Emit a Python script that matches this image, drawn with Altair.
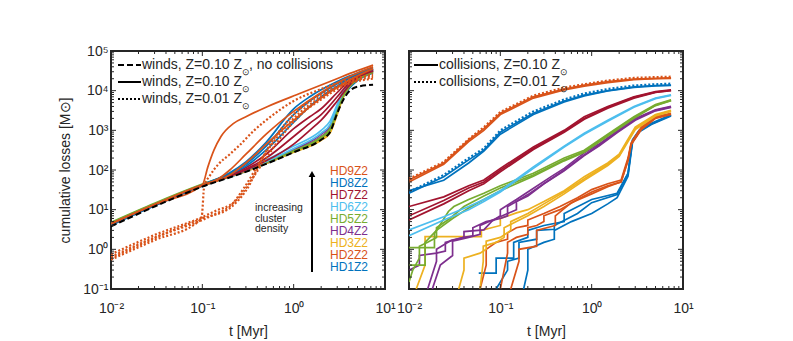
import altair as alt
import pandas as pd

# ---------------- colours per cluster model ----------------
HD_COLORS = {1: "#0072BD", 2: "#D95319", 3: "#EDB120", 4: "#7E2F8E", 5: "#77AC30",
             6: "#4DBEEE", 7: "#A2142F", 8: "#0072BD", 9: "#D95319"}
HD_LABELS = ["HD9Z2", "HD8Z2", "HD7Z2", "HD6Z2", "HD5Z2", "HD4Z2", "HD3Z2", "HD2Z2", "HD1Z2"]

# ---------------- left panel: winds ----------------
TL = [0.01, 0.03, 0.1, 0.3, 1, 2, 2.5, 3, 3.5, 4, 5, 7.4]
W_NOCOLL = [3.8, 12, 38, 90, 280, 580, 900, 2700, 5900, 9300, 12600, 14000]
W_HD1A = [4.0, 12.5, 39, 92, 285, 600, 950, 3000, 7000, 11000, 18000, 28000]
W_HD1B = [4.1, 12.8, 40, 95, 290, 620, 1000, 3300, 8000, 12500, 20000, 31000]
W_HD2A = [4.3, 13.5, 41, 98, 300, 640, 1000, 3200, 8000, 13000, 21000, 33000]
W_HD2B = [4.2, 13.2, 40, 96, 295, 630, 980, 3100, 7500, 12000, 20000, 30000]
W_HD3A = [4.2, 13, 40, 93, 280, 560, 850, 2500, 7000, 12000, 20000, 30000]
W_HD3B = [4.3, 13.3, 41, 95, 290, 600, 900, 2800, 7500, 12500, 21000, 32000]
W_HD4A = [4.4, 13.5, 42, 100, 320, 800, 1300, 3800, 9000, 14000, 22000, 32000]
W_HD4B = [4.4, 13.5, 42, 98, 310, 700, 1150, 3500, 8500, 13500, 21000, 31000]
W_HD5A = [4.8, 14.5, 44, 105, 300, 650, 1000, 3000, 7500, 12000, 19000, 29000]
W_HD5B = [4.6, 14, 43, 100, 300, 680, 1100, 3400, 8200, 13000, 20000, 30000]
W_HD6A = [4.4, 13.5, 42, 105, 400, 1000, 1700, 4500, 10000, 15000, 23000, 34000]
W_HD6B = [4.3, 13.2, 41, 100, 350, 850, 1400, 4000, 9500, 14500, 22000, 33000]

TL2 = [0.01, 0.03, 0.1, 0.2, 0.3, 0.5, 1, 1.5, 2, 3, 4, 5, 7.4]
W_HD7A = [4.3, 13, 41, 75, 115, 250, 1100, 2200, 3500, 9000, 17000, 24000, 35000]
W_HD7B = [4.3, 13, 41, 72, 105, 200, 700, 1500, 2500, 7000, 15000, 22000, 33000]
W_HD7C = [4.3, 13, 41, 70, 100, 170, 450, 1000, 1800, 5500, 13000, 21000, 31000]
W_HD8A = [4.3, 13, 42, 85, 160, 500, 3500, 7000, 10500, 17000, 23000, 28000, 38000]
W_HD8B = [4.3, 13, 42, 80, 140, 400, 2500, 5500, 8500, 15000, 21000, 27000, 36000]
W_HD8C = [4.3, 13, 42, 78, 125, 320, 1600, 4000, 7000, 13000, 20000, 26000, 35000]

W_HD9A_T = [0.01, 0.03, 0.1, 0.115, 0.134, 0.16, 0.22, 0.3, 0.52, 1.2, 2.75, 5, 7.4]
W_HD9A = [4.4, 13.5, 42, 120, 316, 700, 1500, 2200, 4000, 8700, 18600, 32000, 44000]
W_HD9B_T = [0.01, 0.03, 0.1, 0.15, 0.2, 0.3, 0.5, 1, 2, 4, 7.4]
W_HD9B = [4.4, 13.5, 42, 60, 100, 250, 800, 3000, 9000, 22000, 40000]
W_HD9C = [4.4, 13.5, 42, 55, 75, 150, 450, 1800, 6500, 18000, 36000]

# Z = 0.01 runs (dotted)
D1_T = [0.01, 0.03, 0.09, 0.098, 0.105, 0.12, 0.15, 0.2, 0.25, 0.37, 0.6, 1, 2, 4, 7.4]
D1 = [0.55, 1.7, 5, 6, 40, 70, 140, 250, 400, 1000, 2500, 5500, 11000, 19000, 24000]
D2_T = [0.01, 0.03, 0.1, 0.15, 0.2, 0.29, 0.44, 0.7, 1, 2, 4, 7.4]
D2 = [0.65, 2, 5.5, 8.5, 12, 37, 178, 800, 2000, 7000, 16000, 22000]
D3_T = [0.01, 0.03, 0.1, 0.15, 0.2, 0.25, 0.35, 0.5, 0.8, 1.2, 2, 4, 7.4]
D3 = [0.75, 2.3, 6.5, 10, 13, 20, 60, 200, 900, 2500, 6000, 15000, 20000]
D4_T = [0.01, 0.03, 0.1, 0.2, 0.3, 0.5, 1, 2, 4, 7.4]
D4 = [0.6, 1.9, 6, 11, 30, 300, 2500, 8000, 17000, 26000]

# ---------------- right panel: collisions ----------------
TR = [0.01, 0.024, 0.045, 0.066, 0.1, 0.23, 0.5, 0.83, 1.5, 2.9, 5, 7.4]
C_HD9A = [56, 150, 570, 1100, 2700, 7000, 11000, 13800, 17000, 19500, 20500, 21000]
C_HD9B = [50, 140, 520, 1000, 2500, 6500, 10500, 13000, 16000, 19000, 20000, 20500]
C_HD9D = [60, 160, 600, 1200, 2900, 7500, 12000, 14500, 18000, 21000, 22000, 22500]
C_HD8A = [26, 68, 180, 316, 900, 2700, 5500, 7700, 10000, 12500, 13500, 13800]
C_HD8B = [30, 55, 150, 300, 800, 2500, 5200, 7400, 9800, 12000, 13200, 13500]
C_HD8D = [28, 75, 200, 350, 1000, 3000, 6000, 8500, 11000, 13500, 14500, 15000]
C_HD7A = [12, 21, 40, 56, 110, 380, 1000, 2200, 4000, 7000, 9500, 10500]
C_HD7B = [7, 17, 35, 50, 100, 350, 950, 2000, 3800, 6800, 9200, 10200]
C_HD7C = [5.5, 14, 30, 45, 90, 330, 900, 1900, 3600, 6500, 9000, 10000]
C_HD6A = [3.1, 6.6, 12, 18, 30, 120, 400, 850, 1800, 4000, 6500, 7800]
C_HD6B = [2.2, 5.5, 10, 16, 28, 110, 380, 800, 1700, 3800, 6300, 7600]

C_HD5A_T = [0.01, 0.019, 0.019, 0.023, 0.027, 0.031, 0.045, 0.066, 0.1, 0.23, 0.5, 0.83, 1.5, 2.9, 5, 7.4]
C_HD5A = [1.1, 1.1, 2.5, 5, 9, 12, 18, 26, 40, 83, 200, 316, 800, 2200, 4500, 5900]
C_HD5B_T = [0.01, 0.011, 0.013, 0.013, 0.016, 0.02, 0.02, 0.028, 0.04, 0.066, 0.1, 0.23, 0.5, 0.83, 1.5, 2.9, 5, 7.4]
C_HD5B = [0.15, 0.3, 0.6, 1.2, 1.5, 2, 3.5, 6, 12, 22, 35, 75, 180, 290, 750, 2100, 4300, 5700]
C_HD5C_T = [0.01, 0.015, 0.015, 0.02, 0.03, 0.045, 0.066, 0.1, 0.23, 0.5, 0.83, 1.5, 2.9, 5, 7.4]
C_HD5C = [0.4, 0.4, 1.5, 3, 6, 11, 18, 30, 70, 170, 280, 720, 2000, 4200, 5600]

C_HD4A_T = [0.016, 0.02, 0.02, 0.029, 0.04, 0.04, 0.066, 0.08, 0.1, 0.1, 0.15, 0.2, 0.36, 0.5, 0.83, 1.2, 1.94, 3, 5, 7.4]
C_HD4A = [0.1, 0.5, 1, 1.7, 2, 2.8, 3.1, 5, 7, 10, 18, 28, 68, 110, 270, 450, 1000, 2000, 3300, 4000]
C_HD4B_T = [0.01, 0.013, 0.013, 0.02, 0.025, 0.025, 0.04, 0.05, 0.05, 0.07, 0.1, 0.12, 0.12, 0.15, 0.2, 0.36, 0.5, 0.83, 1.2, 1.94, 3, 5, 7.4]
C_HD4B = [0.3, 0.4, 0.7, 0.8, 0.9, 1.5, 2, 2.2, 3.5, 5, 6, 7, 12, 16, 24, 60, 100, 240, 420, 950, 1900, 3200, 3900]
C_HD4C_T = [0.018, 0.022, 0.03, 0.03, 0.045, 0.06, 0.06, 0.09, 0.12, 0.15, 0.15, 0.2, 0.3, 0.5, 0.83, 1.2, 1.94, 3, 5, 7.4]
C_HD4C = [0.1, 0.4, 0.7, 1.6, 2, 2.4, 4, 6, 8, 10, 16, 22, 45, 95, 230, 400, 900, 1800, 3100, 3800]

C_HD3A_T = [0.012, 0.015, 0.015, 0.062, 0.062, 0.08, 0.1, 0.1, 0.15, 0.2, 0.3, 0.5, 0.83, 1.5, 2, 2.5, 3, 5, 7.4]
C_HD3A = [0.1, 0.4, 2.1, 2.1, 3, 3.5, 4, 6, 8.3, 10, 16, 30, 68, 150, 250, 600, 1200, 2500, 3200]
C_HD3B_T = [0.035, 0.04, 0.04, 0.06, 0.07, 0.07, 0.1, 0.13, 0.13, 0.2, 0.3, 0.5, 0.83, 1.5, 2, 2.5, 3, 5, 7.4]
C_HD3B = [0.1, 0.3, 0.6, 0.8, 1, 1.6, 2, 3, 5, 8, 14, 28, 60, 140, 230, 560, 1100, 2400, 3100]
C_HD3C_T = [0.06, 0.065, 0.065, 0.09, 0.11, 0.11, 0.15, 0.2, 0.3, 0.5, 0.83, 1.5, 2, 2.5, 3, 5, 7.4]
C_HD3C = [0.1, 0.5, 1.2, 1.5, 2, 3.5, 5, 7, 12, 25, 55, 130, 220, 520, 1050, 2300, 3000]

C_HD2A_T = [0.06, 0.07, 0.07, 0.09, 0.12, 0.12, 0.15, 0.2, 0.2, 0.3, 0.45, 0.7, 1, 1.5, 2.1, 2.5, 2.7, 3.5, 5, 7.4]
C_HD2A = [0.1, 0.4, 1, 1.5, 1.8, 2.6, 3.5, 4, 5.5, 8, 12, 20, 32, 45, 56, 200, 480, 1200, 2200, 2700]
C_HD2B_T = [0.1, 0.12, 0.12, 0.15, 0.2, 0.2, 0.25, 0.3, 0.3, 0.45, 0.7, 1, 1.5, 2.1, 2.5, 2.7, 3.5, 5, 7.4]
C_HD2B = [0.1, 0.8, 1.5, 2, 2.4, 3.5, 4, 5, 7, 10, 18, 28, 40, 50, 180, 450, 1100, 2100, 2600]
C_HD2C_T = [0.13, 0.16, 0.16, 0.25, 0.25, 0.4, 0.4, 0.6, 1, 1.5, 2.1, 2.5, 2.7, 3.5, 5, 7.4]
C_HD2C = [0.1, 0.5, 1, 1.2, 3, 4, 7, 15, 25, 38, 50, 170, 430, 1050, 2000, 2500]

C_HD1A_T = [0.058, 0.09, 0.09, 0.14, 0.14, 0.2, 0.2, 0.3, 0.5, 0.5, 1, 1.9, 2.5, 2.8, 3.3, 4.5, 7.4]
C_HD1A = [0.25, 0.25, 0.6, 0.6, 1.5, 2, 3, 4, 5, 8, 18, 26, 83, 575, 1000, 1500, 2450]
C_HD1B_T = [0.18, 0.2, 0.2, 0.3, 0.39, 0.39, 0.6, 1, 1.5, 1.9, 2.5, 2.8, 3.3, 4.5, 7.4]
C_HD1B = [0.1, 0.3, 1, 1.5, 1.8, 3, 5, 8, 14, 20, 70, 500, 900, 1400, 2300]
C_HD1C_T = [0.09, 0.12, 0.12, 0.16, 0.16, 0.25, 0.25, 0.39, 0.39, 0.7, 1, 1.9, 2.5, 2.8, 3.3, 4.5, 7.4]
C_HD1C = [0.1, 0.3, 0.5, 0.6, 1.5, 1.8, 3, 3.2, 4, 8, 15, 24, 80, 550, 950, 1450, 2400]

# tick positions
X_MAJOR = [0.01, 0.1, 1, 10]
Y_MAJOR = [0.1, 1, 10, 100, 1000, 10000, 100000]
X_MINOR = [k * 10.0 ** e for e in (-2, -1, 0) for k in range(2, 10)]
Y_MINOR = [k * 10.0 ** e for e in (-1, 0, 1, 2, 3, 4) for k in range(2, 10)]

# ---------------- assemble tables ----------------
rows = []
def add(panel, style, hd, name, t, m):
    col = "#000000" if hd == 0 else HD_COLORS[hd]
    for i, (a, b) in enumerate(zip(t, m)):
        rows.append(dict(panel=panel, style=style, color=col, line=name, i=i, t=a, m=b))

# left: solid
for hd, runs in [(1, [W_HD1A, W_HD1B]), (2, [W_HD2A, W_HD2B]), (3, [W_HD3A, W_HD3B]),
                 (4, [W_HD4A, W_HD4B]), (5, [W_HD5A, W_HD5B]), (6, [W_HD6A, W_HD6B])]:
    for j, r in enumerate(runs):
        add("L", "solid", hd, f"L{hd}{j}", TL, r)
for hd, runs in [(7, [W_HD7A, W_HD7B, W_HD7C]), (8, [W_HD8A, W_HD8B, W_HD8C])]:
    for j, r in enumerate(runs):
        add("L", "solid", hd, f"L{hd}{j}", TL2, r)
add("L", "solid", 9, "L90", W_HD9A_T, W_HD9A)
add("L", "solid", 9, "L91", W_HD9B_T, W_HD9B)
add("L", "solid", 9, "L92", W_HD9B_T, W_HD9C)
add("L", "dotted", 9, "LD1", D1_T, D1)
add("L", "dotted", 9, "LD2", D2_T, D2)
add("L", "dotted", 2, "LD3", D3_T, D3)
add("L", "dotted", 2, "LD4", D4_T, D4)
add("L", "dashed", 0, "LN", TL, W_NOCOLL)

# right
for name, hd, t, m in [
    ("R1a", 1, C_HD1A_T, C_HD1A), ("R1b", 1, C_HD1B_T, C_HD1B), ("R1c", 1, C_HD1C_T, C_HD1C),
    ("R2a", 2, C_HD2A_T, C_HD2A), ("R2b", 2, C_HD2B_T, C_HD2B), ("R2c", 2, C_HD2C_T, C_HD2C),
    ("R3a", 3, C_HD3A_T, C_HD3A), ("R3b", 3, C_HD3B_T, C_HD3B), ("R3c", 3, C_HD3C_T, C_HD3C),
    ("R4a", 4, C_HD4A_T, C_HD4A), ("R4b", 4, C_HD4B_T, C_HD4B), ("R4c", 4, C_HD4C_T, C_HD4C),
    ("R5a", 5, C_HD5A_T, C_HD5A), ("R5b", 5, C_HD5B_T, C_HD5B), ("R5c", 5, C_HD5C_T, C_HD5C),
    ("R6a", 6, TR, C_HD6A), ("R6b", 6, TR, C_HD6B),
    ("R7a", 7, TR, C_HD7A), ("R7b", 7, TR, C_HD7B), ("R7c", 7, TR, C_HD7C),
    ("R8a", 8, TR, C_HD8A), ("R8b", 8, TR, C_HD8B),
    ("R9a", 9, TR, C_HD9A), ("R9b", 9, TR, C_HD9B),
]:
    add("R", "solid", hd, name, t, m)
add("R", "dotted", 8, "R8d", TR, C_HD8D)
add("R", "dotted", 9, "R9d", TR, C_HD9D)

df = pd.DataFrame(rows)

# ---------------- chart pieces ----------------
W, H = 274, 238
INK = "#262626"
FONT = "Liberation Sans"

XS = alt.Scale(type="log", domain=[0.01, 10], nice=False)
YS = alt.Scale(type="log", domain=[0.1, 100000], nice=False)

X_LABEL = ("datum.value < 0.05 ? '10⁻²' : datum.value < 0.5 ? '10⁻¹' : "
           "datum.value < 5 ? '10⁰' : '10¹'")
Y_LABEL = ("datum.value < 0.5 ? '10⁻¹' : datum.value < 5 ? '10⁰' : datum.value < 50 ? '10¹' : "
           "datum.value < 500 ? '10²' : datum.value < 5000 ? '10³' : datum.value < 50000 ? '10⁴' : '10⁵'")

XAX = alt.Axis(values=X_MAJOR, labelExpr=X_LABEL, title="t [Myr]", ticks=False, domain=False,
               grid=False, labelPadding=12, titlePadding=9, labelOverlap=False, labelFlush=False)
YAX = alt.Axis(values=Y_MAJOR, labelExpr=Y_LABEL, title="cumulative losses [M⊙]", ticks=False,
               domain=False, grid=False, labelPadding=3, titlePadding=10, labelOverlap=False,
               labelFlush=False)


def lines(panel, yaxis, interp):
    base = alt.Chart(df[df.panel == panel])
    enc = dict(
        x=alt.X("t:Q", scale=XS, axis=XAX),
        y=alt.Y("m:Q", scale=YS, axis=yaxis),
        color=alt.Color("color:N", scale=None),
        detail="line:N",
        order="i:Q",
    )
    solid = base.transform_filter(alt.datum.style == "solid").mark_line(
        strokeWidth=1.7, clip=True, interpolate=interp).encode(**enc)
    dotted = base.transform_filter(alt.datum.style == "dotted").mark_line(
        strokeWidth=2.2, strokeDash=[2, 2], clip=True, interpolate=interp).encode(**enc)
    layers = [solid, dotted]
    if panel == "L":
        dashed = base.transform_filter(alt.datum.style == "dashed").mark_line(
            strokeWidth=2, strokeDash=[6, 3], clip=True, interpolate=interp).encode(**enc)
        layers.append(dashed)
    return layers


def ticks():
    out = []
    for vals, ln in [(X_MAJOR, 5), (X_MINOR, 3)]:
        d = alt.Chart(pd.DataFrame({"t": vals}))
        out.append(d.mark_rule(color=INK, strokeWidth=1).encode(
            x=alt.X("t:Q", scale=XS, axis=XAX), y=alt.value(H), y2=alt.value(H - ln)))
        out.append(d.mark_rule(color=INK, strokeWidth=1).encode(
            x=alt.X("t:Q", scale=XS, axis=XAX), y=alt.value(0), y2=alt.value(ln)))
    for vals, ln in [(Y_MAJOR, 5), (Y_MINOR, 3)]:
        d = alt.Chart(pd.DataFrame({"m": vals}))
        out.append(d.mark_rule(color=INK, strokeWidth=1).encode(
            y=alt.Y("m:Q", scale=YS), x=alt.value(0), x2=alt.value(ln)))
        out.append(d.mark_rule(color=INK, strokeWidth=1).encode(
            y=alt.Y("m:Q", scale=YS), x=alt.value(W), x2=alt.value(W - ln)))
    return out


def txt(s, x, y, size=14, color=INK, align="left"):
    return alt.Chart(pd.DataFrame({"s": [s]})).mark_text(
        font=FONT, fontSize=size, color=color, align=align, baseline="middle").encode(
        text="s:N", x=alt.value(x), y=alt.value(y))


def sample(y, dash, x0=7, x1=30):
    kw = dict(color="black", strokeWidth=2)
    if dash:
        kw["strokeDash"] = dash
    return alt.Chart(pd.DataFrame({"a": [0]})).mark_rule(**kw).encode(
        x=alt.value(x0), x2=alt.value(x1), y=alt.value(y))


# left legend
LEG_L = ["winds, Z=0.10 Z", "winds, Z=0.10 Z", "winds, Z=0.01 Z"]
left_leg = [
    sample(14, [6, 3]), sample(31, None), sample(48, [2, 2]),
    txt(LEG_L[0], 31, 14), txt("⊙", 131, 21, size=9), txt(", no collisions", 138, 14),
    txt(LEG_L[1], 31, 31), txt("⊙", 131, 38, size=9),
    txt(LEG_L[2], 31, 48), txt("⊙", 131, 55, size=9),
]
# density annotation
anno = [txt(lab, 257, 120 + 12 * k, size=12, color=HD_COLORS[9 - k], align="right")
        for k, lab in enumerate(HD_LABELS)]
anno += [
    txt("increasing", 144, 157, size=10.5), txt("cluster", 144, 167.5, size=10.5),
    txt("density", 144, 178, size=10.5),
    alt.Chart(pd.DataFrame({"a": [0]})).mark_rule(color="black", strokeWidth=2).encode(
        x=alt.value(201), y=alt.value(126), y2=alt.value(221)),
    alt.Chart(pd.DataFrame({"a": [0]})).mark_point(
        shape="triangle-up", filled=True, color="black", size=45, opacity=1).encode(
        x=alt.value(201), y=alt.value(123)),
]

# right legend
LEG_R = ["collisions, Z=0.10 Z", "collisions, Z=0.01 Z"]
right_leg = [
    sample(14, None, 5, 29), sample(31, [2, 2], 5, 29),
    txt(LEG_R[0], 30, 14), txt("⊙", 151, 21, size=9),
    txt(LEG_R[1], 30, 31), txt("⊙", 151, 38, size=9),
]

left = alt.layer(*lines("L", YAX, "monotone"), *ticks(), *left_leg, *anno).properties(
    width=W, height=H)
right = alt.layer(*lines("R", None, "linear"), *ticks(), *right_leg).properties(
    width=W, height=H)

chart = alt.hconcat(left, right, spacing=24, bounds="flush").properties(
    padding={"left": 49, "top": 35, "right": 5, "bottom": 5}
).configure(font=FONT).configure_view(stroke=INK, strokeWidth=2).configure_axis(
    labelFont=FONT, titleFont=FONT, labelFontSize=14, titleFontSize=14,
    titleFontWeight="normal", labelColor=INK, titleColor=INK)

chart.save("out.html", embed_options={"renderer": "svg", "actions": False})
